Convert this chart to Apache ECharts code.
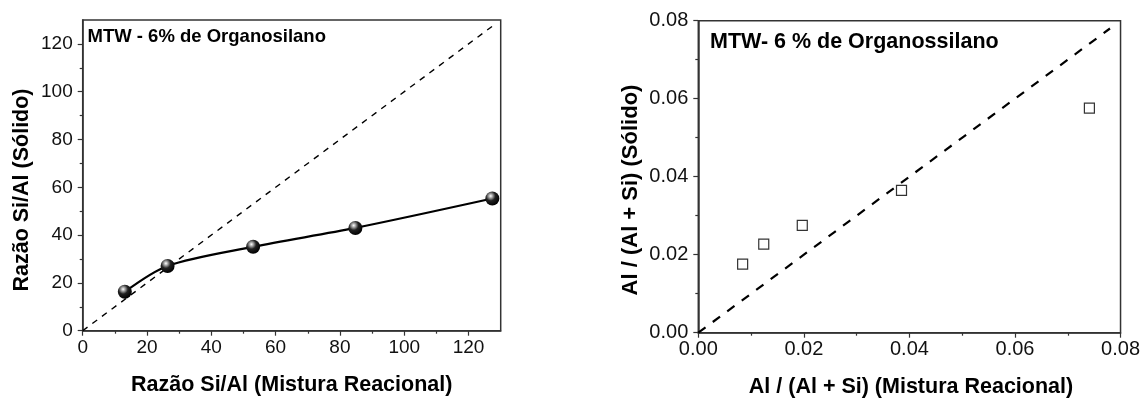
<!DOCTYPE html>
<html>
<head>
<meta charset="utf-8">
<script src="https://cdn.jsdelivr.net/npm/echarts@6/dist/echarts.min.js"></script>
<style>
html,body{margin:0;padding:0;background:#fff;}
#c{width:1143px;height:398px;}
</style>
</head>
<body>
<div id="c"></div>
<script>
// ---- Left panel data: Razão Si/Al ----
const leftX = [13.1, 26.4, 53.0, 84.8, 127.4];
const leftY = [16.3, 27.1, 35.1, 43.0, 55.3];
const leftDiagX = [0, 127.4];
const leftDiagY = [0, 127.4];
const leftMajorTicks = [0, 20, 40, 60, 80, 100, 120];
const leftMinorTicks = [10, 30, 50, 70, 90, 110];

// ---- Right panel data: Al / (Al + Si) ----
const rightX = [0.0084, 0.0124, 0.0197, 0.0385, 0.0741];
const rightY = [0.0176, 0.0227, 0.0275, 0.0365, 0.0576];
const rightDiagX = [0, 0.078];
const rightDiagY = [0, 0.078];
const rightMajorTicks = [0, 0.02, 0.04, 0.06, 0.08];
const rightMinorTicks = [0.01, 0.03, 0.05, 0.07];

const leftTitleX = 'Razão Si/Al (Mistura Reacional)';
const leftTitleY = 'Razão Si/Al (Sólido)';
const leftNote = 'MTW - 6% de Organosilano';
const rightTitleX = 'Al / (Al + Si) (Mistura Reacional)';
const rightTitleY = 'Al / (Al + Si) (Sólido)';
const rightNote = 'MTW- 6 % de Organossilano';

const FONT = '"Liberation Sans", Arial, sans-serif';
const AXC = '#333';

const zip = (a, b) => a.map((v, i) => [v, b[i]]);

function mainAxis(grid, pos, min, max, ticks, fontSize, margin, fmt) {
  return {
    type: 'value', gridIndex: grid, position: pos, min: min, max: max,
    axisLine: {show: true, onZero: false, lineStyle: {color: AXC, width: 1.5}},
    axisTick: {show: true, length: 5, customValues: ticks, lineStyle: {color: AXC, width: 1.2}},
    axisLabel: {customValues: ticks, color: '#111', fontFamily: FONT, fontSize: fontSize, margin: margin, formatter: fmt},
    splitLine: {show: false}
  };
}
function minorAxis(grid, pos, min, max, ticks) {
  return {
    type: 'value', gridIndex: grid, position: pos, min: min, max: max,
    axisLine: {show: false, onZero: false},
    axisTick: {show: true, length: 3, customValues: ticks, lineStyle: {color: AXC, width: 1.2}},
    axisLabel: {show: false},
    splitLine: {show: false}
  };
}

const sphere = {
  type: 'radial', x: 0.38, y: 0.32, r: 0.68,
  colorStops: [
    {offset: 0, color: '#ffffff'},
    {offset: 0.2, color: '#a8a8a8'},
    {offset: 0.5, color: '#222222'},
    {offset: 1, color: '#000000'}
  ]
};

const fmtInt = v => String(Math.round(v));
const fmt2 = v => v.toFixed(2);

const option = {
  animation: false,
  backgroundColor: '#fff',
  grid: [
    {left: 82.7, top: 20, width: 418, height: 310.7, show: true, borderColor: AXC, borderWidth: 1.5, backgroundColor: 'transparent'},
    {left: 698.3, top: 20.7, width: 425, height: 312, show: true, borderColor: AXC, borderWidth: 1.5, backgroundColor: 'transparent'}
  ],
  xAxis: [
    mainAxis(0, 'bottom', 0, 130, leftMajorTicks, 19, 8, fmtInt),
    minorAxis(0, 'bottom', 0, 130, leftMinorTicks),
    mainAxis(1, 'bottom', 0, 0.08, rightMajorTicks, 20, 7, fmt2),
    minorAxis(1, 'bottom', 0, 0.08, rightMinorTicks)
  ],
  yAxis: [
    mainAxis(0, 'left', 0, 130, leftMajorTicks, 19, 10, fmtInt),
    minorAxis(0, 'left', 0, 130, leftMinorTicks),
    mainAxis(1, 'left', 0, 0.08, rightMajorTicks, 20, 10, fmt2),
    minorAxis(1, 'left', 0, 0.08, rightMinorTicks)
  ],
  series: [
    {
      type: 'line', xAxisIndex: 0, yAxisIndex: 0, data: zip(leftDiagX, leftDiagY),
      symbol: 'none', lineStyle: {color: '#000', width: 1.4, type: [6, 6]}, z: 2
    },
    {
      type: 'line', xAxisIndex: 0, yAxisIndex: 0, data: zip(leftX, leftY),
      smooth: 0.3, symbol: 'circle', symbolSize: 14, showAllSymbol: true,
      lineStyle: {color: '#000', width: 2.2},
      itemStyle: {color: sphere, borderWidth: 0}, z: 3
    },
    {
      type: 'line', xAxisIndex: 2, yAxisIndex: 2, data: zip(rightDiagX, rightDiagY),
      symbol: 'none', lineStyle: {color: '#000', width: 2.2, type: [9, 9]}, z: 2
    },
    {
      type: 'scatter', xAxisIndex: 2, yAxisIndex: 2, data: zip(rightX, rightY),
      symbol: 'rect', symbolSize: 10,
      itemStyle: {color: '#fff', borderColor: '#000', borderWidth: 1.2}, z: 3
    }
  ],
  graphic: [
    {type: 'text', left: 87.5, top: 27, style: {text: leftNote, font: 'bold 18.5px ' + FONT, fill: '#000'}},
    {type: 'text', left: 710, top: 31, style: {text: rightNote, font: 'bold 21.5px ' + FONT, fill: '#000'}},
    {type: 'text', x: 291.7, y: 385, style: {text: leftTitleX, font: 'bold 21.5px ' + FONT, fill: '#000', align: 'center', verticalAlign: 'middle'}},
    {type: 'text', x: 22, y: 190, rotation: Math.PI / 2, style: {text: leftTitleY, font: 'bold 21.5px ' + FONT, fill: '#000', align: 'center', verticalAlign: 'middle'}},
    {type: 'text', x: 911, y: 387, style: {text: rightTitleX, font: 'bold 21.5px ' + FONT, fill: '#000', align: 'center', verticalAlign: 'middle'}},
    {type: 'text', x: 631, y: 190, rotation: Math.PI / 2, style: {text: rightTitleY, font: 'bold 22px ' + FONT, fill: '#000', align: 'center', verticalAlign: 'middle'}}
  ]
};

const chart = echarts.init(document.getElementById('c'), null, {renderer: 'canvas'});
chart.setOption(option);
</script>
</body>
</html>
